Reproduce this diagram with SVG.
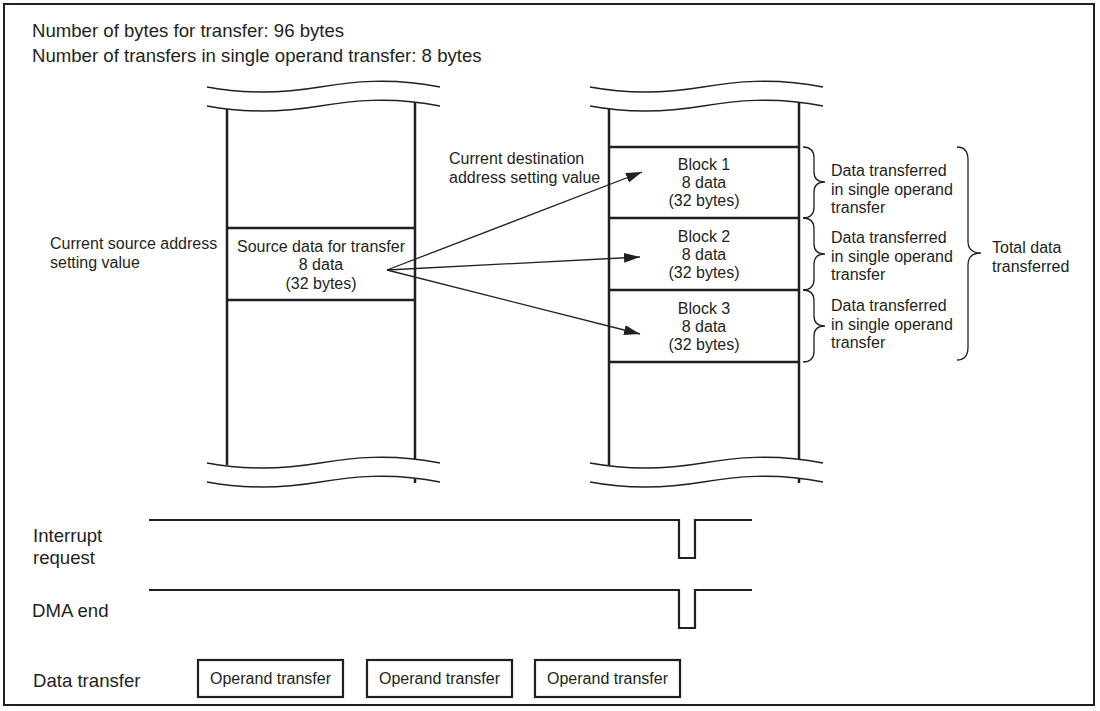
<svg xmlns="http://www.w3.org/2000/svg" width="1100" height="711" viewBox="0 0 1100 711">
<style>
text{font-family:"Liberation Sans",Arial,sans-serif;fill:#231f20}
.t18{font-size:18.6px}
.t16{font-size:16px}
.c{text-anchor:middle}
.col{stroke:#231f20;stroke-width:2.5;fill:none}
.wave{stroke:#231f20;stroke-width:1.5;fill:none}
.arr{stroke:#231f20;stroke-width:1.3;fill:none;marker-end:url(#ah)}
.brace{stroke:#231f20;stroke-width:1.3;fill:none}
.sig{stroke:#231f20;stroke-width:2.2;fill:none}
.box{stroke:#231f20;stroke-width:2.2;fill:#fff}
</style>
<defs>
<marker id="ah" markerWidth="17" markerHeight="11" refX="16" refY="5.5" orient="auto" markerUnits="userSpaceOnUse">
<path d="M0,0.5 L16,5.5 L0,10.5 Z" fill="#231f20"/>
</marker>
<path id="wv" d="M0,0 C43,8 83,5 113,0 S183,-10 233,0"/>
</defs>
<rect x="4" y="4" width="1090" height="701" fill="#fff" stroke="#231f20" stroke-width="2"/>
<g id="header">
<text class="t18" x="32" y="37">Number of bytes for transfer: 96 bytes</text>
<text class="t18" x="32" y="62">Number of transfers in single operand transfer: 8 bytes</text>
</g>
<g id="source-memory">
<use href="#wv" class="wave" x="207" y="87"/>
<use href="#wv" class="wave" x="207" y="106"/>
<use href="#wv" class="wave" x="207" y="463"/>
<use href="#wv" class="wave" x="207" y="482"/>
<line class="col" x1="227" y1="109" x2="227" y2="465"/>
<line class="col" x1="415" y1="102" x2="415" y2="459"/>
<line class="col" x1="415" y1="479" x2="415" y2="483"/>
<line class="col" x1="227" y1="228" x2="415" y2="228"/>
<line class="col" x1="227" y1="300" x2="415" y2="300"/>
</g>
<g id="source-label">
<text class="t16" x="50" y="249">Current source address</text>
<text class="t16" x="50" y="268">setting value</text>
</g>
<g id="source-data">
<text class="t16 c" x="321" y="252">Source data for transfer</text>
<text class="t16 c" x="321" y="270">8 data</text>
<text class="t16 c" x="321" y="289">(32 bytes)</text>
</g>
<g id="dest-memory">
<use href="#wv" class="wave" x="590" y="87"/>
<use href="#wv" class="wave" x="590" y="106"/>
<use href="#wv" class="wave" x="590" y="463"/>
<use href="#wv" class="wave" x="590" y="482"/>
<line class="col" x1="609" y1="109" x2="609" y2="465"/>
<line class="col" x1="799" y1="102" x2="799" y2="459"/>
<line class="col" x1="799" y1="479" x2="799" y2="483"/>
<line class="col" x1="609" y1="147" x2="799" y2="147"/>
<line class="col" x1="609" y1="218" x2="799" y2="218"/>
<line class="col" x1="609" y1="290" x2="799" y2="290"/>
<line class="col" x1="609" y1="362" x2="799" y2="362"/>
</g>
<g id="dest-label">
<text class="t16" x="449" y="164">Current destination</text>
<text class="t16" x="449" y="183">address setting value</text>
</g>
<g id="block1">
<text class="t16 c" x="704" y="170">Block 1</text>
<text class="t16 c" x="704" y="188">8 data</text>
<text class="t16 c" x="704" y="206">(32 bytes)</text>
</g>
<g id="block2">
<text class="t16 c" x="704" y="242">Block 2</text>
<text class="t16 c" x="704" y="260">8 data</text>
<text class="t16 c" x="704" y="278">(32 bytes)</text>
</g>
<g id="block3">
<text class="t16 c" x="704" y="314">Block 3</text>
<text class="t16 c" x="704" y="332">8 data</text>
<text class="t16 c" x="704" y="350">(32 bytes)</text>
</g>
<g id="connectors">
<line class="arr" x1="387" y1="270" x2="642" y2="172"/>
<line class="arr" x1="387" y1="270" x2="640" y2="257"/>
<line class="arr" x1="387" y1="270" x2="640" y2="334"/>
</g>
<g id="braces">
<path class="brace" d="M803,147 Q814,147 814,158 L814,172 Q814,182 825,182 Q814,182 814,192 L814,207 Q814,218 803,218"/>
<path class="brace" d="M803,218 Q814,218 814,229 L814,244 Q814,254 825,254 Q814,254 814,264 L814,279 Q814,290 803,290"/>
<path class="brace" d="M803,290 Q814,290 814,301 L814,316 Q814,326 825,326 Q814,326 814,336 L814,351 Q814,362 803,362"/>
<path class="brace" d="M957,147 Q968,147 968,160 L968,241 Q968,253 981,253 Q968,253 968,265 L968,347 Q968,360 957,360"/>
</g>
<g id="single-labels">
<text class="t16" x="831" y="176">Data transferred</text>
<text class="t16" x="831" y="195">in single operand</text>
<text class="t16" x="831" y="213">transfer</text>
<text class="t16" x="831" y="243">Data transferred</text>
<text class="t16" x="831" y="262">in single operand</text>
<text class="t16" x="831" y="280">transfer</text>
<text class="t16" x="831" y="311">Data transferred</text>
<text class="t16" x="831" y="330">in single operand</text>
<text class="t16" x="831" y="348">transfer</text>
</g>
<g id="total-label">
<text class="t16" x="992" y="253">Total data</text>
<text class="t16" x="992" y="272">transferred</text>
</g>
<g id="interrupt-request">
<text class="t18" x="33" y="542">Interrupt</text>
<text class="t18" x="33" y="564">request</text>
<path class="sig" d="M149,520 H679 V558 H695 V520 H752"/>
</g>
<g id="dma-end">
<text class="t18" x="32" y="617">DMA end</text>
<path class="sig" d="M149,590 H679 V628 H695 V590 H752"/>
</g>
<g id="data-transfer">
<text class="t18" x="33" y="687">Data transfer</text>
</g>
<g id="op1">
<rect class="box" x="198" y="660" width="145" height="37"/>
<text class="t16 c" x="270.5" y="684">Operand transfer</text>
</g>
<g id="op2">
<rect class="box" x="367" y="660" width="145" height="37"/>
<text class="t16 c" x="439.5" y="684">Operand transfer</text>
</g>
<g id="op3">
<rect class="box" x="535" y="660" width="145" height="37"/>
<text class="t16 c" x="607.5" y="684">Operand transfer</text>
</g>
</svg>
